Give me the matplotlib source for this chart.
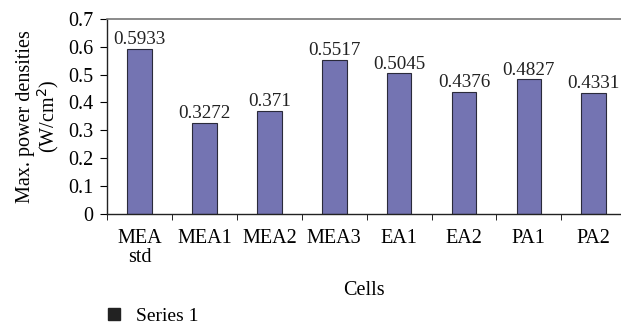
import matplotlib
matplotlib.use("Agg")
import matplotlib.pyplot as plt
from matplotlib.lines import Line2D

categories = ["MEA\nstd", "MEA1", "MEA2", "MEA3", "EA1", "EA2", "PA1", "PA2"]
values = [0.5933, 0.3272, 0.371, 0.5517, 0.5045, 0.4376, 0.4827, 0.4331]
value_labels = ["0.5933", "0.3272", "0.371", "0.5517", "0.5045", "0.4376", "0.4827", "0.4331"]
yticks = [0, 0.1, 0.2, 0.3, 0.4, 0.5, 0.6, 0.7]

plt.rcParams['font.family'] = ['Liberation Serif', 'DejaVu Serif']
fig = plt.figure(figsize=(6.21, 3.26), dpi=100)
ax = fig.add_axes([0.1725, 0.344, 0.8275, 0.598])

FS = 14.5
x = list(range(len(categories)))
ax.bar(x, values, width=0.38, color="#7474b2", edgecolor="#2a2a3a", linewidth=0.8, zorder=2)
for xi, v, lab in zip(x, values, value_labels):
    ax.text(xi, v + 0.003, lab, ha="center", va="bottom", fontsize=13.8, color="#222222")

ax.set_xlim(-0.5, len(categories) - 0.58)
ax.set_ylim(0, 0.7)
ax.set_yticks(yticks)
ax.set_yticklabels(["0" if t == 0 else f"{t:.1f}" for t in yticks], fontsize=FS)
ax.set_xticks(x)
ax.set_xticklabels(categories, fontsize=FS, ha="center", linespacing=1.0)
ax.set_xticks([i - 0.5 for i in range(len(categories))], minor=True)
ax.tick_params(axis="x", which="major", length=0, pad=11)
ax.tick_params(axis="x", which="minor", length=4, direction="out")
ax.tick_params(axis="y", length=5, direction="out", pad=5)

for s in ["left", "bottom"]:
    ax.spines[s].set_color("#222222")
    ax.spines[s].set_linewidth(1.0)
ax.spines["top"].set_color("#777777")
ax.spines["top"].set_linewidth(1.2)
ax.spines["right"].set_visible(False)

ax.set_ylabel("Max. power densities\n(W/cm$^2$)", fontsize=FS, linespacing=1.0, labelpad=5)
ax.set_xlabel("Cells", fontsize=FS, labelpad=10)

handle = Line2D([0], [0], marker="s", color="none", markerfacecolor="#222222",
                markeredgecolor="#222222", markersize=8)
fig.legend([handle], ["Series 1"], loc="center left", bbox_to_anchor=(0.14, 0.03),
           frameon=False, fontsize=14, handletextpad=0.6, handlelength=1.0)

fig.savefig("out.png", dpi=100)
